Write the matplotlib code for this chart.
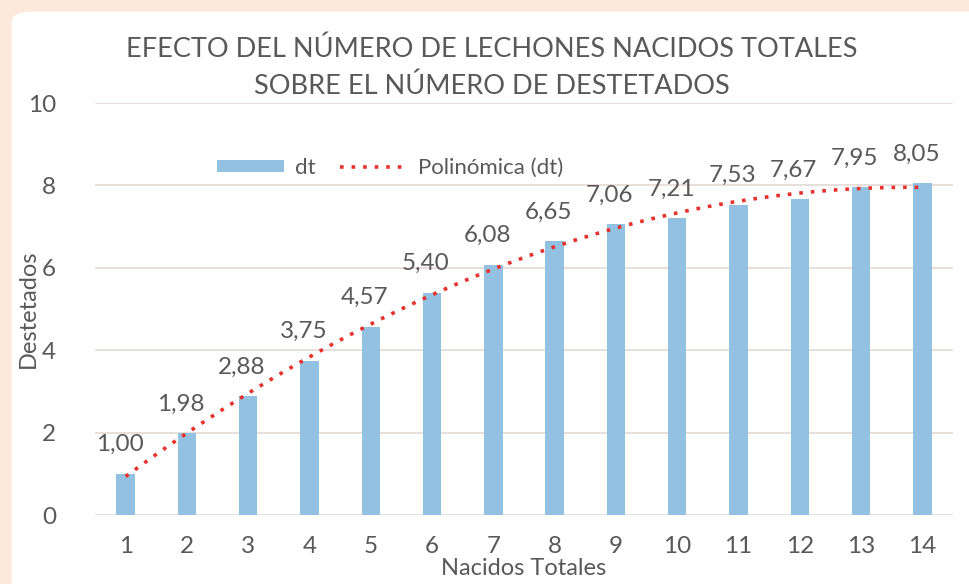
import numpy as np
import matplotlib.pyplot as plt
from matplotlib.patches import FancyBboxPatch

plt.rcParams['font.family'] = ['Lato', 'DejaVu Sans']

# Data
nacidos = [1, 2, 3, 4, 5, 6, 7, 8, 9, 10, 11, 12, 13, 14]
dt = [1.00, 1.98, 2.88, 3.75, 4.57, 5.40, 6.08, 6.65, 7.06, 7.21, 7.53, 7.67, 7.95, 8.05]

gray = '#595959'
bar_color = '#93C1E1'

fig = plt.figure(figsize=(9.7, 5.84), dpi=100)
fig.patch.set_facecolor('#FCE9DB')

# white chart panel
panel = FancyBboxPatch((0.012, -0.05), 1.05, 1.03, boxstyle='round,pad=0,rounding_size=0.02',
                       transform=fig.transFigure, facecolor='white', edgecolor='none', zorder=-10)
fig.patches.append(panel)

ax = fig.add_axes([95 / 970, 1 - 515 / 584, (953 - 95) / 970, (515 - 103) / 584])
ax.set_facecolor('none')

bars = ax.bar(nacidos, dt, width=0.3, color=bar_color, label='dt', zorder=2)

# second order polynomial trendline
coef = np.polyfit(nacidos, dt, 2)
xs = np.linspace(nacidos[0], nacidos[-1], 200)
trend, = ax.plot(xs, np.polyval(coef, xs), linestyle=(0, (1, 2.2)), color='#E8312C', lw=2.6,
                 label='Polinómica (dt)', zorder=3)

for x, v in zip(nacidos, dt):
    ax.text(x - 0.1, v + 0.45, f'{v:.2f}'.replace('.', ','), ha='center', va='bottom',
            fontsize=17.5, color=gray, zorder=4)

ax.set_xlim(0.5, 14.5)
ax.set_ylim(0, 10)
ax.set_xticks(nacidos)
ax.set_yticks([0, 2, 4, 6, 8, 10])
ax.tick_params(length=0, labelsize=17.5, colors=gray)
ax.tick_params(axis='x', pad=15)
ax.tick_params(axis='y', pad=28)
ax.grid(axis='y', color='#E2D9D5', lw=1.2, zorder=0)
for s in ax.spines.values():
    s.set_visible(False)

ax.set_xlabel('Nacidos Totales', fontsize=17, color=gray, labelpad=1)
ax.set_ylabel('Destetados', fontsize=17, color=gray, labelpad=-8)

fig.text(492 / 970, 1 - 49 / 584, 'EFECTO DEL NÚMERO DE LECHONES NACIDOS TOTALES',
         ha='center', va='center', fontsize=19.5, color=gray)
fig.text(492 / 970, 1 - 86 / 584, 'SOBRE EL NÚMERO DE DESTETADOS',
         ha='center', va='center', fontsize=19.5, color=gray)

ax.legend([bars, trend], ['dt', 'Polinómica (dt)'], loc='center',
          bbox_to_anchor=(390 / 970, 1 - 168 / 584), bbox_transform=fig.transFigure,
          ncol=2, frameon=False, fontsize=16, labelcolor=gray, handlelength=3.0,
          handleheight=0.5, handletextpad=0.5, columnspacing=1.1)

fig.savefig('out.png', dpi=100, facecolor=fig.get_facecolor())
